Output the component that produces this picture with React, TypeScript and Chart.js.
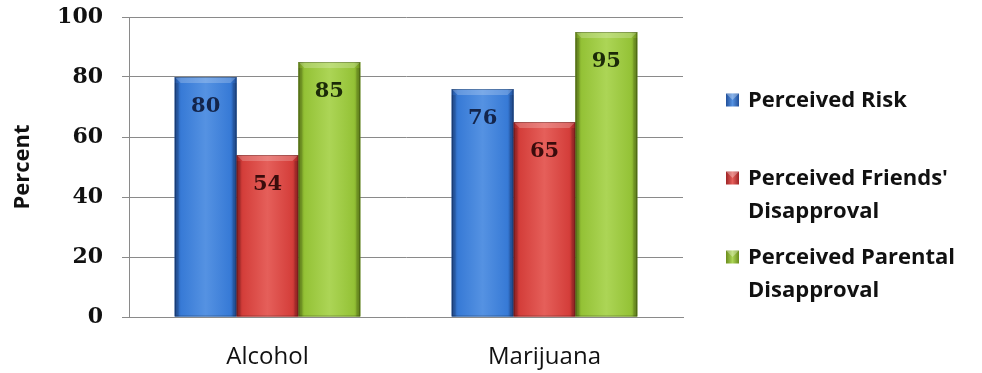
import React, { useEffect, useRef } from "react";
import { Chart, registerables } from "chart.js";

Chart.register(...registerables);

const categories = ["Alcohol", "Marijuana"];
const seriesLabels = [
  ["Perceived Risk"],
  ["Perceived Friends'", "Disapproval"],
  ["Perceived Parental", "Disapproval"],
];
const riskValues = [80, 76];
const friendsValues = [54, 65];
const parentalValues = [85, 95];
const yTicks = [0, 20, 40, 60, 80, 100];

const palettes = [
  { dark: "#22509a", mid: "#377ad6", light: "#5592e2", text: "#13244a" },
  { dark: "#9e2426", mid: "#d43e3a", light: "#e55f5a", text: "#3a0c0c" },
  { dark: "#6a8c1c", mid: "#94c236", light: "#acd556", text: "#1c2a08" },
];

function barGradient(ctx: CanvasRenderingContext2D, left: number, right: number, p: any) {
  const g = ctx.createLinearGradient(left, 0, right, 0);
  g.addColorStop(0, p.dark);
  g.addColorStop(0.1, p.mid);
  g.addColorStop(0.5, p.light);
  g.addColorStop(0.9, p.mid);
  g.addColorStop(1, p.dark);
  return g;
}

const bevelPlugin = {
  id: "bevel",
  afterDatasetsDraw(chart: any) {
    const ctx = chart.ctx as CanvasRenderingContext2D;
    chart.data.datasets.forEach((ds: any, di: number) => {
      const meta = chart.getDatasetMeta(di);
      const p = palettes[di];
      meta.data.forEach((bar: any, i: number) => {
        const { x, y, base, width } = bar.getProps(["x", "y", "base", "width"], true);
        const left = x - width / 2;
        const right = x + width / 2;
        ctx.save();
        ctx.fillStyle = barGradient(ctx, left, right, p);
        ctx.fillRect(left, y, width, base - y);
        const b = 6;
        ctx.beginPath();
        ctx.moveTo(left, y);
        ctx.lineTo(right, y);
        ctx.lineTo(right - b, y + b);
        ctx.lineTo(left + b, y + b);
        ctx.closePath();
        ctx.fillStyle = "rgba(255,255,255,0.22)";
        ctx.fill();
        ctx.fillStyle = "rgba(0,0,0,0.12)";
        ctx.fillRect(left, y + b, 4, base - y - b);
        ctx.fillRect(right - 4, y + b, 4, base - y - b);
        ctx.strokeStyle = "rgba(0,0,0,0.25)";
        ctx.lineWidth = 1;
        ctx.strokeRect(left + 0.5, y + 0.5, width - 1, base - y - 1);
        ctx.fillStyle = p.text;
        ctx.font = "bold 21px 'DejaVu Serif'";
        ctx.textAlign = "center";
        ctx.textBaseline = "middle";
        ctx.fillText(String(ds.data[i]), x, y + 30);
        ctx.restore();
      });
    });
  },
};

const legendPlugin = {
  id: "sideLegend",
  afterDraw(chart: any) {
    const ctx = chart.ctx as CanvasRenderingContext2D;
    const boxX = 726;
    const textX = 748;
    const lineYs = [[100], [178, 211], [257, 290]];
    ctx.save();
    seriesLabels.forEach((lines, i) => {
      const p = palettes[i];
      const y0 = lineYs[i][0];
      const s = 13;
      const bx = boxX, by = y0 - s / 2;
      const g = ctx.createLinearGradient(bx, 0, bx + s, 0);
      g.addColorStop(0, p.dark);
      g.addColorStop(0.5, p.light);
      g.addColorStop(1, p.dark);
      ctx.fillStyle = g;
      ctx.fillRect(bx, by, s, s);
      ctx.beginPath();
      ctx.moveTo(bx, by);
      ctx.lineTo(bx + s, by);
      ctx.lineTo(bx + s / 2, by + s / 2);
      ctx.closePath();
      ctx.fillStyle = "rgba(255,255,255,0.3)";
      ctx.fill();
      ctx.fillStyle = "#111";
      ctx.font = "bold 22px 'Open Sans'";
      ctx.textAlign = "left";
      ctx.textBaseline = "middle";
      lines.forEach((t, k) => ctx.fillText(t, textX, lineYs[i][k] + 1));
    });
    ctx.restore();
  },
};

export default function App() {
  const ref = useRef<HTMLCanvasElement>(null);
  useEffect(() => {
    const chart = new Chart(ref.current!, {
      type: "bar",
      data: {
        labels: categories,
        datasets: [
          { label: seriesLabels[0].join(" "), data: riskValues, backgroundColor: palettes[0].mid },
          { label: seriesLabels[1].join(" "), data: friendsValues, backgroundColor: palettes[1].mid },
          { label: seriesLabels[2].join(" "), data: parentalValues, backgroundColor: palettes[2].mid },
        ],
      },
      options: {
        animation: false,
        responsive: false,
        maintainAspectRatio: false,
        layout: { padding: { top: 17, right: 299, bottom: 0, left: 0 } },
        datasets: { bar: { categoryPercentage: 0.67, barPercentage: 1 } },
        plugins: { legend: { display: false }, tooltip: { enabled: false } },
        scales: {
          x: {
            grid: { display: false },
            border: { display: true, color: "#8a8a8a" },
            ticks: { color: "#111", font: { family: "'Open Sans'", size: 24, weight: "500" }, padding: 18 },
            afterFit: (s: any) => { s.height = 56; s.paddingLeft = 0; s.paddingRight = 0; },
          },
          y: {
            min: 0,
            max: 100,
            afterBuildTicks: (s: any) => { s.ticks = yTicks.map((v) => ({ value: v })); },
            grid: { color: "#8a8a8a", tickLength: 7, lineWidth: 1 },
            border: { display: true, color: "#8a8a8a" },
            ticks: { color: "#111", font: { family: "'DejaVu Serif'", size: 22, weight: "bold" }, padding: 19 },
            title: {
              display: true,
              text: "Percent",
              color: "#111",
              font: { family: "'Open Sans'", size: 22, weight: "bold" },
              padding: { top: 10, bottom: 0 },
            },
            afterFit: (s: any) => { s.width = 129; s.paddingTop = 0; s.paddingBottom = 0; },
          },
        },
      },
      plugins: [bevelPlugin, legendPlugin],
    });
    return () => chart.destroy();
  }, []);
  return (
    <div style={{ position: "absolute", left: 0, top: 0, width: 982, height: 373, background: "#fff" }}>
      <canvas ref={ref} width={982} height={373} style={{ display: "block" }} />
    </div>
  );
}
